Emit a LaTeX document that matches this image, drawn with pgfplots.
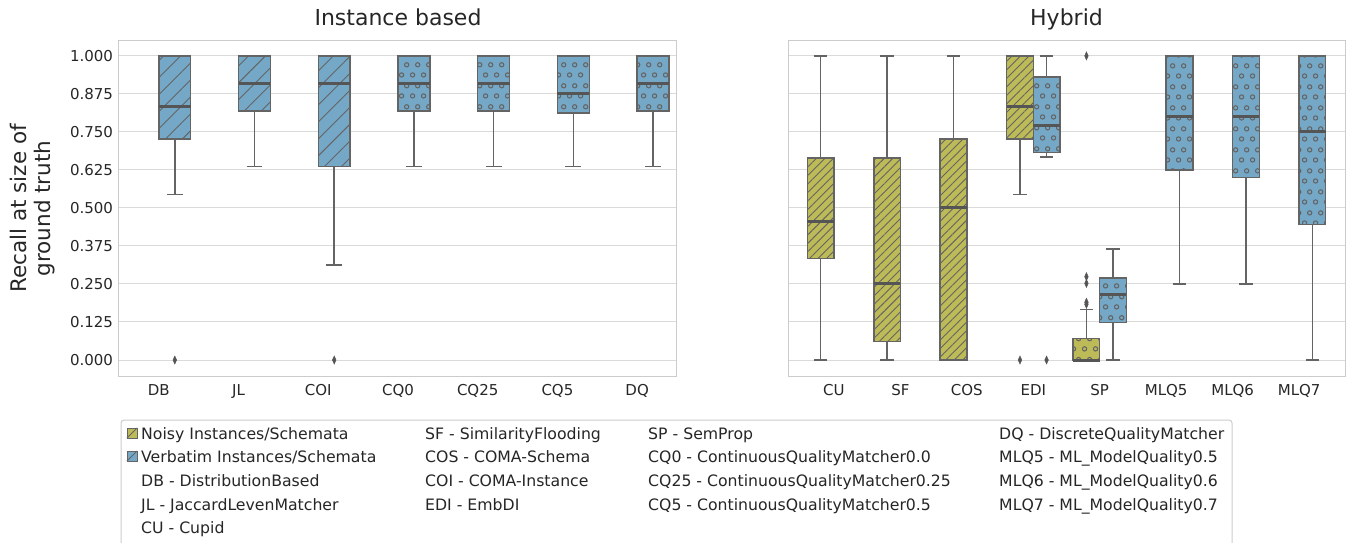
\documentclass[border=0pt]{standalone}
\usepackage{pgfplots}
\pgfplotsset{compat=1.18}
\usepgfplotslibrary{statistics}
\usetikzlibrary{patterns.meta}
\usepackage{fontspec}
\setmainfont{DejaVu Sans}
\definecolor{cY}{RGB}{189,186,88}
\definecolor{cB}{RGB}{117,168,199}
\definecolor{cL}{RGB}{100,100,100}
\definecolor{cM}{RGB}{85,85,85}
\definecolor{cG}{RGB}{218,218,218}
\definecolor{cF}{RGB}{204,204,204}
\definecolor{cT}{RGB}{38,38,38}

\tikzdeclarepattern{
  name=rings,
  type=uncolored,
  bounding box={(0pt,0pt) and (10.5pt,21pt)},
  tile size={(10.5pt,21pt)},
  code={
    \draw[line width=1.1pt] (2.625pt,5.25pt) circle [radius=2.2pt];
    \draw[line width=1.1pt] (7.875pt,15.75pt) circle [radius=2.2pt];
  }
}

\pgfplotsset{
  mybox/.style={
    boxplot/draw direction=y,
    boxplot/box extend=0.4,
    boxplot/whisker extend=0.2,
    draw=cL, line width=1.5pt,
    boxplot/every median/.style={draw=cM, line width=3pt},
  },
  bHatch/.style={mybox, boxplot/every box/.style={fill=cB, postaction={pattern={Lines[angle=45,distance=12pt,line width=0.9pt]}, pattern color=cL}}},
  bRing/.style={mybox, boxplot/every box/.style={fill=cB, postaction={pattern=rings, pattern color=cL}}},
  yHatch/.style={mybox, boxplot/every box/.style={fill=cY, postaction={pattern={Lines[angle=45,distance=6pt,line width=0.9pt]}, pattern color=cL}}},
  yRing/.style={mybox, boxplot/every box/.style={fill=cY, postaction={pattern=rings, pattern color=cL}}},
  outl/.style={only marks, mark=diamond*, mark size=4pt, color=cM, mark options={xscale=0.6, line width=0.5pt}},
  myaxis/.style={
    scale only axis, height=335pt, anchor=south west,
    ymin=-0.0526, ymax=1.049,
    ytick={0,0.125,0.25,0.375,0.5,0.625,0.75,0.875,1},
    ymajorgrids, grid style={cG, line width=1pt},
    axis line style={cF, line width=1pt},
    major tick length=0pt,
    tick label style={font=\fontsize{15}{18}\selectfont, text=cT},
    xticklabel style={anchor=base, yshift=-19.5pt},
    yticklabel style={anchor=east, xshift=-2.5pt},
    every axis title/.style={at={(0.5,1)}, anchor=base, yshift=15pt, font=\fontsize{22}{25}\selectfont, text=cT},
  },
}

\begin{document}
\begin{tikzpicture}
\begin{axis}[myaxis, at={(119pt,166pt)}, width=558pt,
  xmin=-0.5, xmax=6.5, xtick={0,1,2,3,4,5,6},
  xticklabels={DB,JL,COI,CQ0,CQ25,CQ5,DQ},
  yticklabels={0.000,0.125,0.250,0.375,0.500,0.625,0.750,0.875,1.000},
  title={Instance based},
  ylabel={Recall at size of\\ground truth},
  every axis y label/.style={at={(axis description cs:-0.154,0.5)}, rotate=90, anchor=center, align=center, font=\fontsize{21.5}{24}\selectfont, text=cT},
]
\addplot[bHatch, boxplot prepared={draw position=0.2, lower whisker=0.545, lower quartile=0.727, median=0.833, upper quartile=1.0, upper whisker=1.0}] coordinates {};
\addplot[bHatch, boxplot prepared={draw position=1.2, lower whisker=0.636, lower quartile=0.818, median=0.909, upper quartile=1.0, upper whisker=1.0}] coordinates {};
\addplot[bHatch, boxplot prepared={draw position=2.2, lower whisker=0.3125, lower quartile=0.636, median=0.909, upper quartile=1.0, upper whisker=1.0}] coordinates {};
\addplot[bRing, boxplot prepared={draw position=3.2, lower whisker=0.636, lower quartile=0.818, median=0.909, upper quartile=1.0, upper whisker=1.0}] coordinates {};
\addplot[bRing, boxplot prepared={draw position=4.2, lower whisker=0.636, lower quartile=0.818, median=0.909, upper quartile=1.0, upper whisker=1.0}] coordinates {};
\addplot[bRing, boxplot prepared={draw position=5.2, lower whisker=0.636, lower quartile=0.813, median=0.875, upper quartile=1.0, upper whisker=1.0}] coordinates {};
\addplot[bRing, boxplot prepared={draw position=6.2, lower whisker=0.636, lower quartile=0.818, median=0.909, upper quartile=1.0, upper whisker=1.0}] coordinates {};
\addplot[outl] coordinates {(0.2,0) (2.2,0)};
\end{axis}

\begin{axis}[myaxis, at={(788pt,166pt)}, width=557pt,
  xmin=-0.69, xmax=7.69, xtick={0,1,2,3,4,5,6,7},
  xticklabels={CU,SF,COS,EDI,SP,MLQ5,MLQ6,MLQ7},
  yticklabels={{},{},{},{},{},{},{},{},{}},
  title={Hybrid},
]
\addplot[yHatch, boxplot prepared={draw position=-0.2, lower whisker=0, lower quartile=0.333, median=0.455, upper quartile=0.665, upper whisker=1.0}] coordinates {};
\addplot[yHatch, boxplot prepared={draw position=0.8, lower whisker=0, lower quartile=0.0615, median=0.25, upper quartile=0.665, upper whisker=1.0}] coordinates {};
\addplot[yHatch, boxplot prepared={draw position=1.8, lower whisker=0, lower quartile=0, median=0.5, upper quartile=0.727, upper whisker=1.0}] coordinates {};
\addplot[yHatch, boxplot prepared={draw position=2.8, lower whisker=0.545, lower quartile=0.727, median=0.833, upper quartile=1.0, upper whisker=1.0}] coordinates {};
\addplot[bRing, boxplot prepared={draw position=3.2, lower whisker=0.667, lower quartile=0.682, median=0.771, upper quartile=0.931, upper whisker=1.0}] coordinates {};
\addplot[yRing, boxplot prepared={draw position=3.8, lower whisker=0, lower quartile=0, median=0, upper quartile=0.070, upper whisker=0.1667}] coordinates {};
\addplot[bRing, boxplot prepared={draw position=4.2, lower whisker=0, lower quartile=0.124, median=0.216, upper quartile=0.27, upper whisker=0.365}] coordinates {};
\addplot[bRing, boxplot prepared={draw position=5.2, lower whisker=0.25, lower quartile=0.625, median=0.8, upper quartile=1.0, upper whisker=1.0}] coordinates {};
\addplot[bRing, boxplot prepared={draw position=6.2, lower whisker=0.25, lower quartile=0.6, median=0.8, upper quartile=1.0, upper whisker=1.0}] coordinates {};
\addplot[bRing, boxplot prepared={draw position=7.2, lower whisker=0, lower quartile=0.446, median=0.75, upper quartile=1.0, upper whisker=1.0}] coordinates {};
\addplot[outl] coordinates {(2.8,0) (3.2,0) (3.8,0.183) (3.8,0.19) (3.8,0.252) (3.8,0.274) (3.8,1.0)};
\end{axis}

% legend
\draw[cF, line width=1pt, rounded corners=3pt, fill=white] (121pt,-12pt) rectangle (1232pt,122pt);
\draw[cL, line width=0.8pt, fill=cY] (127pt,104pt) rectangle (137pt,114pt);
\draw[cL, line width=0.8pt] (127pt,104pt) -- (137pt,114pt);
\draw[cL, line width=0.8pt, fill=cB] (127pt,81pt) rectangle (137pt,91pt);
\draw[cL, line width=0.8pt] (127pt,81pt) -- (137pt,91pt);
\begin{scope}[every node/.style={anchor=base west, font=\fontsize{15.7}{18}\selectfont, text=cT, inner sep=0pt}]
\node at (141pt,103pt) {Noisy Instances/Schemata};
\node at (141pt,80pt) {Verbatim Instances/Schemata};
\node at (141pt,56pt) {DB - DistributionBased};
\node at (141pt,32pt) {JL - JaccardLevenMatcher};
\node at (141pt,9pt) {CU - Cupid};
\node at (425pt,103pt) {SF - SimilarityFlooding};
\node at (425pt,80pt) {COS - COMA-Schema};
\node at (425pt,56pt) {COI - COMA-Instance};
\node at (425pt,32pt) {EDI - EmbDI};
\node at (648pt,103pt) {SP - SemProp};
\node at (648pt,80pt) {CQ0 - ContinuousQualityMatcher0.0};
\node at (648pt,56pt) {CQ25 - ContinuousQualityMatcher0.25};
\node at (648pt,32pt) {CQ5 - ContinuousQualityMatcher0.5};
\node at (999pt,103pt) {DQ - DiscreteQualityMatcher};
\node at (999pt,80pt) {MLQ5 - ML\_ModelQuality0.5};
\node at (999pt,56pt) {MLQ6 - ML\_ModelQuality0.6};
\node at (999pt,32pt) {MLQ7 - ML\_ModelQuality0.7};
\end{scope}
\pgfresetboundingbox
\path (0pt,0pt) rectangle (1347pt,542pt);
\end{tikzpicture}
\end{document}
